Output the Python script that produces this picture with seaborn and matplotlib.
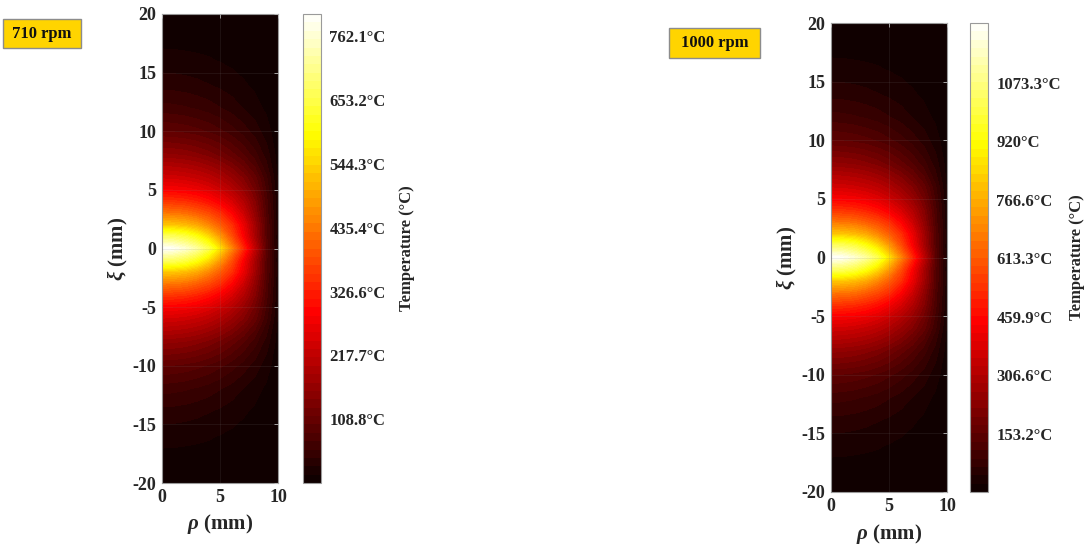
import numpy as np
import matplotlib
matplotlib.use("Agg")
import matplotlib.pyplot as plt
from matplotlib.patches import Rectangle
import seaborn as sns

# ---- data -------------------------------------------------------------
# radial and axial sample positions (mm); the field is symmetric in xi
rho_mm = [0, 1, 2, 3, 4, 5, 6, 7, 8, 9, 10]
xi_mm = [0, 1, 2, 3, 4, 5, 6, 8, 10, 12, 14, 16, 18, 20]

# normalised temperature T / T_peak for xi >= 0 (one row per xi value)
theta_rows = [
    [1.00, 0.985, 0.95, 0.90, 0.82, 0.70, 0.56, 0.42, 0.27, 0.12, 0.02],
    [0.84, 0.835, 0.81, 0.76, 0.69, 0.59, 0.48, 0.36, 0.235, 0.11, 0.02],
    [0.66, 0.655, 0.64, 0.61, 0.56, 0.50, 0.43, 0.335, 0.225, 0.11, 0.022],
    [0.54, 0.535, 0.525, 0.50, 0.47, 0.425, 0.365, 0.29, 0.20, 0.10, 0.02],
    [0.44, 0.435, 0.427, 0.41, 0.385, 0.35, 0.305, 0.25, 0.18, 0.095, 0.018],
    [0.36, 0.356, 0.35, 0.338, 0.318, 0.29, 0.255, 0.21, 0.155, 0.085, 0.016],
    [0.30, 0.297, 0.29, 0.28, 0.264, 0.242, 0.212, 0.176, 0.132, 0.075, 0.014],
    [0.20, 0.197, 0.192, 0.183, 0.17, 0.153, 0.132, 0.107, 0.078, 0.045, 0.009],
    [0.125, 0.123, 0.119, 0.113, 0.104, 0.093, 0.079, 0.063, 0.045, 0.026, 0.005],
    [0.078, 0.076, 0.073, 0.068, 0.062, 0.054, 0.045, 0.035, 0.025, 0.014, 0.003],
    [0.046, 0.045, 0.043, 0.040, 0.036, 0.031, 0.026, 0.02, 0.014, 0.008, 0.002],
    [0.025, 0.0245, 0.0235, 0.022, 0.02, 0.017, 0.014, 0.011, 0.008, 0.004, 0.001],
    [0.011, 0.011, 0.010, 0.0095, 0.0085, 0.0075, 0.0065, 0.005, 0.0035, 0.002, 0.0],
    [0.0, 0.0, 0.0, 0.0, 0.0, 0.0, 0.0, 0.0, 0.0, 0.0, 0.0],
]

# peak temperatures (°C) of the two spindle speeds
speed_labels = ["710 rpm", "1000 rpm"]
peak_temps = [800.0, 1230.0]

# colourbar ticks (°C)
cbar_ticks_710 = [108.8, 217.7, 326.6, 435.4, 544.3, 653.2, 762.1]
cbar_ticks_1000 = [153.2, 306.6, 459.9, 613.3, 766.6, 920, 1073.3]

# ---- style ------------------------------------------------------------
sns.set_style("white")
plt.rcParams["font.family"] = ["Liberation Serif", "DejaVu Serif"]
plt.rcParams["font.weight"] = "bold"
plt.rcParams["axes.labelweight"] = "bold"
plt.rcParams["axes.unicode_minus"] = False
plt.rcParams["mathtext.fontset"] = "custom"
plt.rcParams["mathtext.rm"] = "Liberation Serif:bold"
plt.rcParams["mathtext.it"] = "Liberation Serif:italic:bold"
plt.rcParams["mathtext.bf"] = "Liberation Serif:bold"

cmap = sns.color_palette("hot", as_cmap=True)

# full symmetric grid
xi_full = np.array([-v for v in xi_mm[:0:-1]] + xi_mm, dtype=float)
theta = np.array(theta_rows, dtype=float)
theta_full = np.vstack([theta[:0:-1], theta])
rho = np.array(rho_mm, dtype=float)

fig = plt.figure(figsize=(10.85, 5.49), dpi=100)
W, H = 1085.0, 549.0


def fig_rect(x0, y0, x1, y1):
    return [x0 / W, 1 - y1 / H, (x1 - x0) / W, (y1 - y0) / H]


panels = [
    dict(ax=(162, 14, 278, 483), cb=(303, 14, 321, 483),
         box=(3, 19, 81, 48), peak=peak_temps[0], ticks=cbar_ticks_710,
         label=speed_labels[0], cb_pad=10),
    dict(ax=(831, 23, 947, 492), cb=(970, 23, 988, 492),
         box=(669, 28, 760, 58), peak=peak_temps[1], ticks=cbar_ticks_1000,
         label=speed_labels[1], cb_pad=6),
]

edge_grey = "#9a9a9a"

for p in panels:
    ax = fig.add_axes(fig_rect(*p["ax"]))
    temp = theta_full * p["peak"]
    levels = np.linspace(0, p["peak"], 57)
    cs = ax.contourf(rho, xi_full, temp, levels=levels, cmap=cmap,
                     vmin=0, vmax=p["peak"])
    ax.set_xlim(0, 10)
    ax.set_ylim(-20, 20)
    ax.set_xticks([0, 5, 10])
    ax.set_yticks(np.arange(-20, 21, 5))
    ax.grid(True, color="#808080", alpha=0.15, lw=0.6)
    ax.set_axisbelow(False)
    ax.tick_params(direction="in", length=3, width=0.6, top=True,
                   right=True, labelsize=13, colors="#262626",
                   color="#bdbdbd", pad=4)
    for s in ax.spines.values():
        s.set_color(edge_grey)
        s.set_linewidth(0.8)
    ax.set_xlabel(r"$\mathit{\rho}$ (mm)", fontsize=15, labelpad=5,
                  color="#262626")
    ax.set_ylabel(r"$\mathit{\xi}$ (mm)", fontsize=15, labelpad=2,
                  color="#262626")

    cax = fig.add_axes(fig_rect(*p["cb"]))
    cb = fig.colorbar(cs, cax=cax, ticks=p["ticks"])
    cb.set_ticklabels([f"{t:g}°C" for t in p["ticks"]])
    cb.ax.tick_params(direction="in", length=3, width=0.6, labelsize=12,
                      colors="#262626", color="#8c8c8c", pad=6)
    cb.outline.set_edgecolor(edge_grey)
    cb.outline.set_linewidth(0.8)
    cb.set_label("Temperature (°C)", fontsize=12, labelpad=p["cb_pad"],
                 color="#262626")

    # speed tag in the upper left of each panel
    bx0, by0, bx1, by1 = p["box"]
    r = fig_rect(bx0, by0, bx1, by1)
    fig.patches.append(Rectangle((r[0], r[1]), r[2], r[3],
                                 transform=fig.transFigure,
                                 facecolor="#FFD400", edgecolor="#8c8c8c",
                                 linewidth=1.0))
    fig.text(r[0] + r[2] / 2, r[1] + r[3] / 2, p["label"], ha="center",
             va="center", fontsize=12, color="#111111")

fig.savefig("out.png", dpi=100)
